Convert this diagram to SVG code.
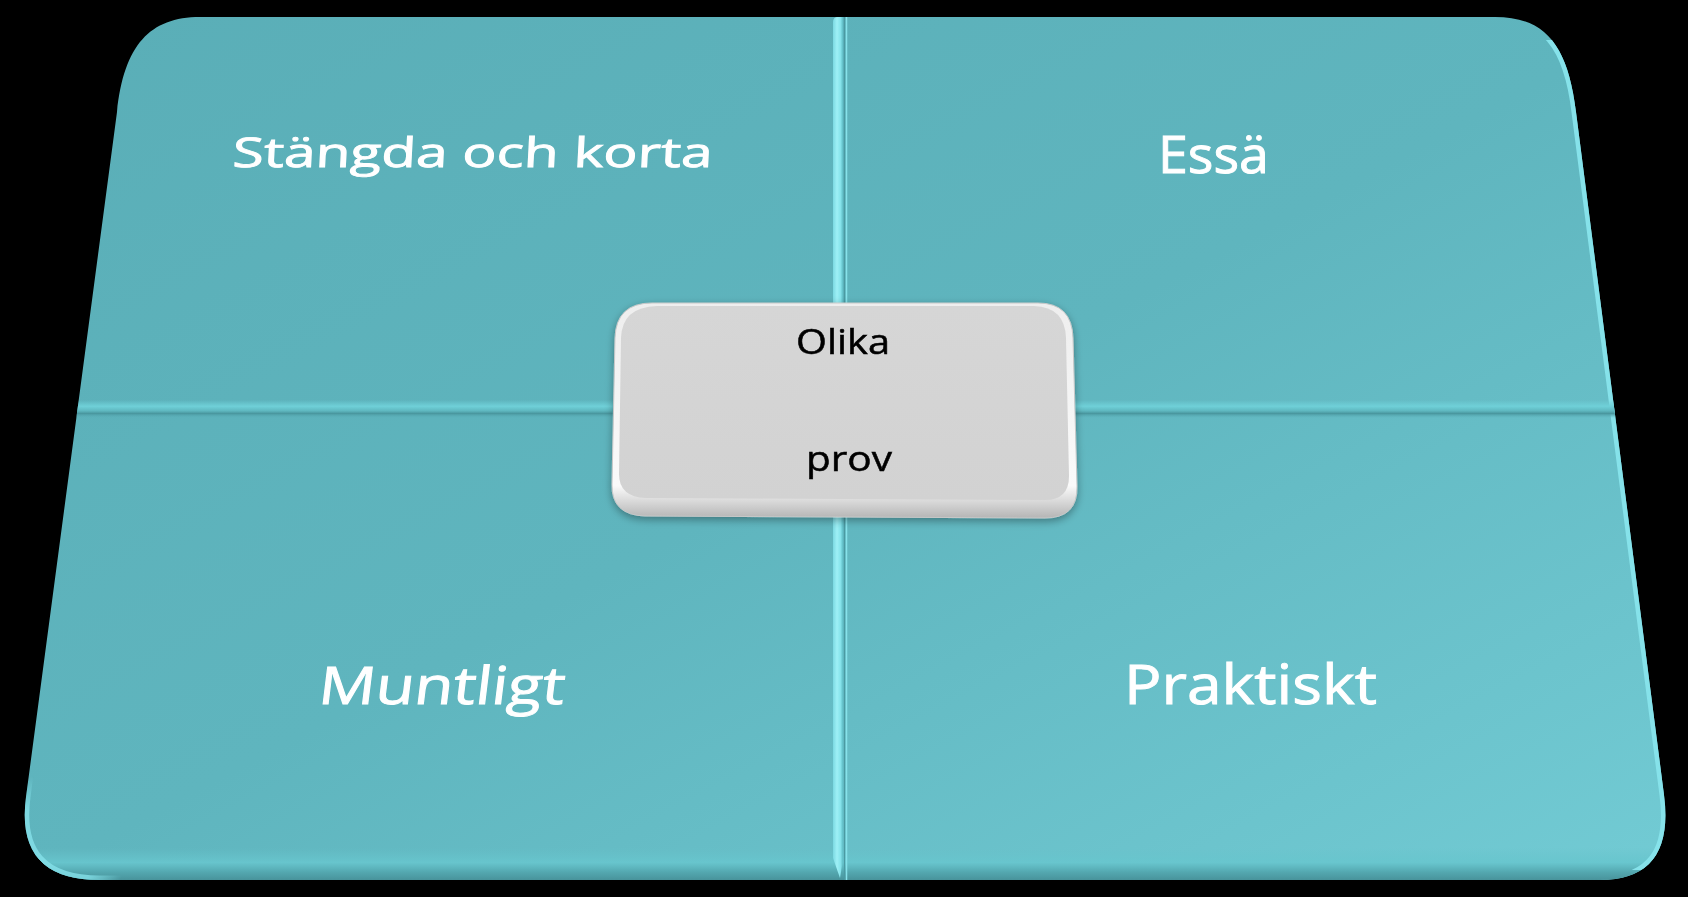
<svg xmlns="http://www.w3.org/2000/svg" width="1688" height="897" viewBox="0 0 1688 897">
<defs>
<style>
.lbl{font-family:"Open Sans","Noto Sans","Liberation Sans",sans-serif;fill:#ffffff;stroke:#ffffff;stroke-width:0.9;}
.ctr{font-family:"Open Sans","Noto Sans","Liberation Sans",sans-serif;fill:#000000;stroke:#000000;stroke-width:0.5;font-size:34px;}
.rim{fill:none;stroke:#86e2ea;stroke-width:9;}
</style>
<linearGradient id="boardFill" x1="0" y1="0" x2="1" y2="1">
<stop offset="0" stop-color="#5aaeb7"/>
<stop offset="0.5" stop-color="#5fb5be"/>
<stop offset="1" stop-color="#72cbd4"/>
</linearGradient>
<linearGradient id="bottomBand" x1="0" y1="0" x2="0" y2="1">
<stop offset="0" stop-color="#66c3cb" stop-opacity="0"/>
<stop offset="0.45" stop-color="#68c6ce" stop-opacity="0.9"/>
<stop offset="0.75" stop-color="#54a8b0"/>
<stop offset="1" stop-color="#48939b"/>
</linearGradient>
<linearGradient id="hDiv" x1="0" y1="0" x2="0" y2="1">
<stop offset="0" stop-color="#6fd0d8" stop-opacity="0"/>
<stop offset="0.35" stop-color="#6fd0d8"/>
<stop offset="0.6" stop-color="#5fb8c0"/>
<stop offset="0.75" stop-color="#4a979f"/>
<stop offset="1" stop-color="#5aafb8" stop-opacity="0"/>
</linearGradient>
<linearGradient id="vDiv" x1="0" y1="0" x2="1" y2="0">
<stop offset="0" stop-color="#7bd9e2"/>
<stop offset="0.4" stop-color="#9ef0f6"/>
<stop offset="0.75" stop-color="#86e3eb"/>
<stop offset="1" stop-color="#5fbcc5"/>
</linearGradient>
<linearGradient id="boxRim" x1="0" y1="0" x2="0" y2="1">
<stop offset="0" stop-color="#eeeeee"/>
<stop offset="0.85" stop-color="#fafafa"/>
<stop offset="1" stop-color="#b5b5b5"/>
</linearGradient>
<linearGradient id="boxFace" x1="0" y1="0" x2="0" y2="1">
<stop offset="0" stop-color="#d6d6d6"/>
<stop offset="1" stop-color="#d2d2d2"/>
</linearGradient>
<radialGradient id="cornerFade" cx="45" cy="855" r="80" gradientUnits="userSpaceOnUse">
<stop offset="0" stop-color="#ffffff"/>
<stop offset="0.6" stop-color="#ffffff"/>
<stop offset="1" stop-color="#000000"/>
</radialGradient>
<mask id="leftMask"><rect x="0" y="700" width="200" height="197" fill="url(#cornerFade)"/></mask>
<filter id="shadow" x="-10%" y="-10%" width="120%" height="130%">
<feGaussianBlur in="SourceAlpha" stdDeviation="4"/>
<feOffset dy="3"/>
<feComponentTransfer><feFuncA type="linear" slope="0.35"/></feComponentTransfer>
<feMerge><feMergeNode/><feMergeNode in="SourceGraphic"/></feMerge>
</filter>
<path id="boardPath" d="M200,17 L1495,17 C1545,17 1568,45 1576,112 L1664,795 Q1675,880 1600,880 L100,880 Q15,880 26,797 L117,112 C124,45 150,17 200,17 Z"/>
<clipPath id="boardClip"><use href="#boardPath"/></clipPath>
<clipPath id="rightZone"><rect x="1530" y="40" width="158" height="830"/></clipPath>
</defs>
<rect x="0" y="0" width="1688" height="897" fill="#000000"/>

<g id="board">
<use href="#boardPath" fill="url(#boardFill)"/>
<g clip-path="url(#boardClip)">
<rect x="0" y="848" width="1688" height="32" fill="url(#bottomBand)"/>
<g clip-path="url(#rightZone)"><use href="#boardPath" class="rim"/></g>
<g mask="url(#leftMask)" opacity="0.8"><use href="#boardPath" class="rim"/></g>
</g>
</g>

<g id="connectors">
<g clip-path="url(#boardClip)">
<rect x="0" y="400" width="1688" height="18" fill="url(#hDiv)"/>
<path d="M833,22 Q833,17 838,17 L843,17 L843,860 L840,878 L833,858 Z" fill="url(#vDiv)"/>
<line x1="844.5" y1="17" x2="844.5" y2="880" stroke="#4b9aa2" stroke-width="1.2"/>
<line x1="846.5" y1="17" x2="846.5" y2="880" stroke="#88e2ea" stroke-width="1.5"/>
</g>
</g>

<g id="node-closed">
<text class="lbl" font-size="41" transform="translate(232,167) skewX(-3)" textLength="480" lengthAdjust="spacingAndGlyphs">Stängda och korta</text>
</g>
<g id="node-essay">
<text class="lbl" x="1158" y="173" font-size="52" textLength="111" lengthAdjust="spacingAndGlyphs">Essä</text>
</g>
<g id="node-oral">
<text class="lbl" font-size="52" transform="translate(317,704) skewX(-7)" textLength="246" lengthAdjust="spacingAndGlyphs">Muntligt</text>
</g>
<g id="node-practical">
<text class="lbl" x="1124" y="704" font-size="54" textLength="253" lengthAdjust="spacingAndGlyphs">Praktiskt</text>
</g>

<g id="node-center" filter="url(#shadow)">
<path d="M652,303 L1038,303 Q1072,303 1073,338 L1077,486 Q1078,518 1045,518 L645,516 Q611,515 612,484 L615,338 Q616,303 652,303 Z" fill="url(#boxRim)" stroke="#c8c8c8" stroke-width="1"/>
<path d="M657,306 L1034,306 Q1065,307 1066,338 L1069,476 Q1069,500 1045,500 L646,498 Q619,497 619,474 L621,338 Q622,307 657,306 Z" fill="url(#boxFace)"/>
<text class="ctr" x="796" y="354" textLength="94" lengthAdjust="spacingAndGlyphs">Olika</text>
<text class="ctr" x="806" y="471" textLength="86" lengthAdjust="spacingAndGlyphs">prov</text>
</g>
</svg>
